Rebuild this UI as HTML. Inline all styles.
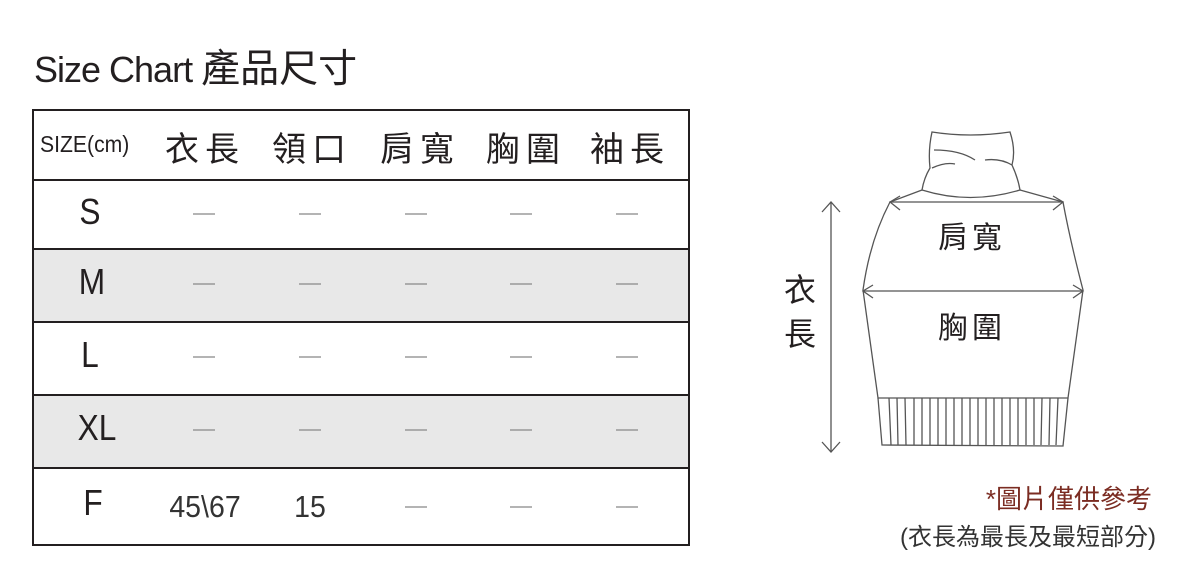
<!DOCTYPE html>
<html><head><meta charset="utf-8"><style>
body{margin:0;width:1200px;height:578px;background:#fff;position:relative;overflow:hidden;font-family:"Liberation Sans","Noto Sans CJK TC",sans-serif;color:#231f20}
.t{position:absolute;white-space:nowrap}
.row{position:absolute;left:32px;width:658px;border-top:2px solid #231f20}
.c{position:absolute;transform:translateX(-50%);white-space:nowrap}
</style></head><body>
<div class="t" style="left:34px;top:38px;font-size:36px;letter-spacing:-1px">Size Chart <span style="font-size:39px;letter-spacing:0">產品尺寸</span></div>
<div class="row" style="top:179px;height:69px"></div>
<div class="row" style="top:248px;height:71px;background:#e8e8e8"></div>
<div class="row" style="top:321px;height:71px"></div>
<div class="row" style="top:394px;height:71px;background:#e8e8e8"></div>
<div class="row" style="top:467px;height:76px"></div>
<div style="position:absolute;left:32px;top:109px;width:658px;height:437px;border:2px solid #231f20;box-sizing:border-box"></div>
<div class="t" style="left:40px;top:131px;font-size:23px;letter-spacing:0px;transform:scaleX(0.92);transform-origin:left">SIZE(cm)</div>
<div class="c" style="left:205px;top:122px;font-size:34px;letter-spacing:6px">衣長</div>
<div class="c" style="left:312px;top:122px;font-size:34px;letter-spacing:6px">領口</div>
<div class="c" style="left:420px;top:122px;font-size:34px;letter-spacing:6px">肩寬</div>
<div class="c" style="left:526px;top:122px;font-size:34px;letter-spacing:6px">胸圍</div>
<div class="c" style="left:630px;top:122px;font-size:34px;letter-spacing:6px">袖長</div>
<div class="c" style="left:90px;top:191px;font-size:36px;transform:translateX(-50%) scaleX(0.88)">S</div>
<div class="c" style="left:92px;top:261px;font-size:36px;transform:translateX(-50%) scaleX(0.88)">M</div>
<div class="c" style="left:90px;top:334px;font-size:36px;transform:translateX(-50%) scaleX(0.88)">L</div>
<div class="c" style="left:97px;top:407px;font-size:36px;transform:translateX(-50%) scaleX(0.88)">XL</div>
<div class="c" style="left:93px;top:482px;font-size:36px;transform:translateX(-50%) scaleX(0.88)">F</div>
<div class="c" style="left:205px;top:489px;font-size:31px;color:#333;transform:translateX(-50%) scaleX(0.92)">45\67</div>
<div class="c" style="left:310px;top:489px;font-size:31px;color:#333;transform:translateX(-50%) scaleX(0.92)">15</div>
<svg style="position:absolute;left:0;top:0" width="1200" height="578">
<g stroke="#888" stroke-width="1.3">
<line x1="193" y1="214" x2="215" y2="214"/><line x1="299" y1="214" x2="321" y2="214"/><line x1="405" y1="214" x2="427" y2="214"/><line x1="510" y1="214" x2="532" y2="214"/><line x1="616" y1="214" x2="638" y2="214"/>
<line x1="193" y1="284" x2="215" y2="284"/><line x1="299" y1="284" x2="321" y2="284"/><line x1="405" y1="284" x2="427" y2="284"/><line x1="510" y1="284" x2="532" y2="284"/><line x1="616" y1="284" x2="638" y2="284"/>
<line x1="193" y1="357" x2="215" y2="357"/><line x1="299" y1="357" x2="321" y2="357"/><line x1="405" y1="357" x2="427" y2="357"/><line x1="510" y1="357" x2="532" y2="357"/><line x1="616" y1="357" x2="638" y2="357"/>
<line x1="193" y1="430" x2="215" y2="430"/><line x1="299" y1="430" x2="321" y2="430"/><line x1="405" y1="430" x2="427" y2="430"/><line x1="510" y1="430" x2="532" y2="430"/><line x1="616" y1="430" x2="638" y2="430"/>
<line x1="405" y1="507" x2="427" y2="507"/><line x1="510" y1="507" x2="532" y2="507"/><line x1="616" y1="507" x2="638" y2="507"/>
</g>
<g stroke="#555" stroke-width="1.3" fill="none">
<path d="M932,132 Q970,138 1010,132 Q1016,150 1012,165 Q1018,178 1020,190 Q970,205 922,190 Q924,178 930,168 Q928,150 932,132Z"/>
<path d="M934,150 Q960,150 975,160 M1012,165 Q1000,158 985,160 M932,168 Q945,162 955,164"/>
<path d="M922,190 L890,202 Q870,240 863,290 L878,398 L1068,398 L1083,290 Q1070,240 1063,202 L1020,190"/>
<line x1="890" y1="202" x2="1063" y2="202"/>
<path d="M900,196 L890,202 L900,210 M1053,196 L1063,202 L1053,210"/>
<line x1="863" y1="291" x2="1083" y2="291"/>
<path d="M873,285 L863,291 L873,298 M1073,285 L1083,291 L1073,298"/>
<path d="M878,398 L882,445 L1063,446 L1068,398"/>
<path d="M889,398L891,445M897,398L898,445M905,398L906,445M914,398L914,445M922,398L922,445M930,398L930,445M938,398L938,445M946,398L946,445M954,398L954,445M962,398L962,445M970,398L970,445M978,398L978,445M986,398L986,445M994,398L994,445M1002,398L1002,445M1010,398L1010,445M1018,398L1018,445M1026,398L1026,445M1034,398L1034,445M1042,398L1041,445M1050,398L1049,445M1058,398L1056,445"/>
<line x1="831" y1="202" x2="831" y2="452"/>
<path d="M822,212 L831,202 L840,212 M822,442 L831,452 L840,442"/>
</g>
</svg>
<div class="t" style="left:938px;top:213px;font-size:30px;letter-spacing:4px">肩寬</div>
<div class="t" style="left:938px;top:303px;font-size:30px;letter-spacing:4px">胸圍</div>
<div class="t" style="left:784px;top:268px;font-size:32px;line-height:44px;width:34px">衣<br>長</div>
<div class="t" style="right:48px;top:479px;font-size:26px;color:#7b2c22">*圖片僅供參考</div>
<div class="t" style="right:44px;top:517px;font-size:24px;color:#333">(衣長為最長及最短部分)</div>
</body></html>
